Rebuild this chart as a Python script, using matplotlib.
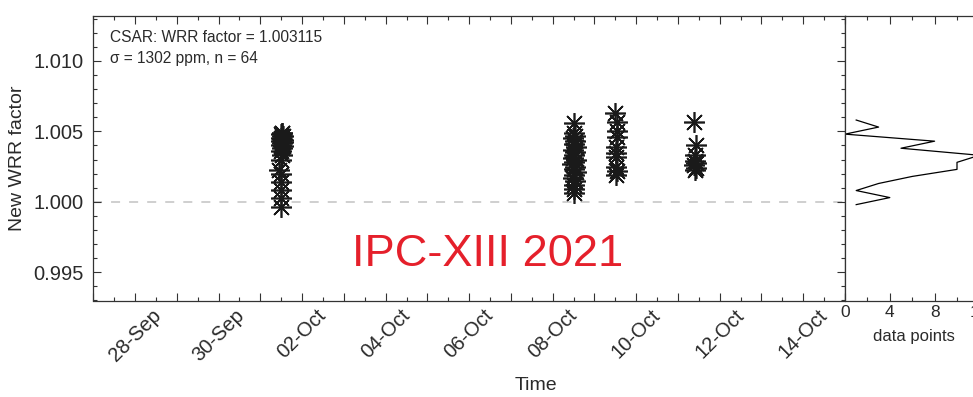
import numpy as np
import pandas as pd
import matplotlib
matplotlib.use("Agg")
import matplotlib.pyplot as plt
import matplotlib.dates as mdates
from matplotlib.ticker import MultipleLocator

plt.rcParams['font.family'] = ['Liberation Sans', 'DejaVu Sans']

# WRR factor per measurement, grouped by day of comparison
times_oct01 = ["2021-10-01 12:10", "2021-10-01 12:40", "2021-10-01 11:50", "2021-10-01 12:20",
               "2021-10-01 13:00", "2021-10-01 11:40", "2021-10-01 12:30", "2021-10-01 12:50",
               "2021-10-01 12:00", "2021-10-01 13:10", "2021-10-01 12:15", "2021-10-01 11:55",
               "2021-10-01 12:45", "2021-10-01 12:25", "2021-10-01 12:05", "2021-10-01 12:35",
               "2021-10-01 11:45", "2021-10-01 10:50", "2021-10-01 11:50", "2021-10-01 12:00",
               "2021-10-01 11:55", "2021-10-01 12:05", "2021-10-01 11:50"]
wrr_oct01 = [1.00490, 1.00485, 1.00478, 1.00470, 1.00465, 1.00455, 1.00448, 1.00440,
             1.00432, 1.00425, 1.00415, 1.00405, 1.00395, 1.00380, 1.00360, 1.00335,
             1.00300, 1.00228, 1.00195, 1.00140, 1.00085, 1.00030, 0.99965]

times_oct08 = ["2021-10-08 12:30", "2021-10-08 12:00", "2021-10-08 13:00", "2021-10-08 11:40",
               "2021-10-08 12:50", "2021-10-08 12:10", "2021-10-08 13:20", "2021-10-08 11:30",
               "2021-10-08 12:40", "2021-10-08 12:20", "2021-10-08 11:50", "2021-10-08 13:10",
               "2021-10-08 12:30", "2021-10-08 11:20", "2021-10-08 12:50", "2021-10-08 12:00",
               "2021-10-08 13:30", "2021-10-08 12:20", "2021-10-08 11:40", "2021-10-08 12:40",
               "2021-10-08 12:10", "2021-10-08 12:30", "2021-10-08 12:20"]
wrr_oct08 = [1.00556, 1.00490, 1.00470, 1.00450, 1.00430, 1.00410, 1.00390, 1.00370,
             1.00350, 1.00330, 1.00310, 1.00300, 1.00280, 1.00270, 1.00250, 1.00230,
             1.00210, 1.00190, 1.00170, 1.00150, 1.00120, 1.00090, 1.00060]

times_oct09 = ["2021-10-09 12:00", "2021-10-09 13:10", "2021-10-09 12:50", "2021-10-09 13:00",
               "2021-10-09 12:30", "2021-10-09 12:20", "2021-10-09 12:40", "2021-10-09 12:30",
               "2021-10-09 12:50", "2021-10-09 12:40"]
wrr_oct09 = [1.00627, 1.00567, 1.00500, 1.00460, 1.00390, 1.00345, 1.00320, 1.00248,
             1.00215, 1.00190]

times_oct11 = ["2021-10-11 09:10", "2021-10-11 10:10", "2021-10-11 10:00", "2021-10-11 09:40",
               "2021-10-11 10:20", "2021-10-11 09:30", "2021-10-11 10:10", "2021-10-11 09:50"]
wrr_oct11 = [1.00566, 1.00402, 1.00331, 1.00290, 1.00275, 1.00260, 1.00240, 1.00228]

# distribution of the factors (bin centre, number of points)
hist_bins = [0.9998, 1.0003, 1.0008, 1.0013, 1.0018, 1.0023, 1.0028,
             1.0033, 1.0038, 1.0043, 1.0048, 1.0053, 1.0058]
hist_counts = [1, 4, 1, 3, 6, 10, 10, 12, 5, 8, 0, 3, 1]

mean_wrr = 1.003115
sigma_ppm = 1302

times = pd.to_datetime(times_oct01 + times_oct08 + times_oct09 + times_oct11)
wrr = np.array(wrr_oct01 + wrr_oct08 + wrr_oct09 + wrr_oct11)
n = len(wrr)

W, H = 973, 397
fig = plt.figure(figsize=(W / 100, H / 100), dpi=100)
ax = fig.add_axes([93.3 / W, 1 - 300.5 / H, 751.7 / W, 284.8 / H])
axh = fig.add_axes([845 / W, 1 - 300.5 / H, 140 / W, 284.8 / H], sharey=ax)

txt = "#2a2a2a"
spine_c = "#333333"

ax.axhline(1.0, color="#cccccc", lw=1.3, ls=(0, (5, 5)), zorder=1)
ax.plot(times, wrr, ls="none", marker=(8, 2, 0), ms=15, mew=1.2,
        color="#1a1a1a", zorder=3)

ax.set_xlim(pd.Timestamp("2021-09-27"), pd.Timestamp("2021-10-15"))
ax.set_ylim(0.9930, 1.0132)

ax.xaxis.set_minor_locator(mdates.HourLocator(byhour=[12]))
ticks = pd.date_range("2021-09-27", "2021-10-15", freq="D")
ax.set_xticks(ticks)
ax.set_xticklabels([t.strftime("%d-%b") if (t - pd.Timestamp("2021-09-28")).days % 2 == 0 else ""
                    for t in ticks], rotation=45, ha="center", rotation_mode="default")

ax.yaxis.set_major_locator(MultipleLocator(0.005))
ax.yaxis.set_minor_locator(MultipleLocator(0.001))
ax.yaxis.set_major_formatter(matplotlib.ticker.FormatStrFormatter("%.3f"))

for a in (ax, axh):
    a.tick_params(which="both", direction="in", top=True, right=True,
                  color=spine_c, labelcolor=txt, labelsize=14.5, width=0.8)
    a.tick_params(which="major", length=6)
    a.tick_params(which="minor", length=3)
    for s in a.spines.values():
        s.set_color(spine_c)
        s.set_linewidth(0.9)
ax.tick_params(axis="x", pad=4)
ax.tick_params(axis="y", pad=7)

ax.set_ylabel("New WRR factor", fontsize=14, color=txt, labelpad=5)

ax.text(0.022, 0.925, f"CSAR: WRR factor = {mean_wrr:.6f}", transform=ax.transAxes,
        fontsize=11.2, color=txt, va="center")
ax.text(0.022, 0.848, f"\u03c3 = {sigma_ppm} ppm, n = {n}", transform=ax.transAxes,
        fontsize=11.2, color=txt, va="center")
ax.text(0.524, 0.163, "IPC-XIII 2021", transform=ax.transAxes, fontsize=32.6,
        color="#e5202b", ha="center", va="center")

fig.text(536 / W, 1 - 385 / H, "Time", fontsize=14, color=txt, ha="center", va="center")

# histogram panel
axh.plot(hist_counts, hist_bins, color="black", lw=0.9)
axh.set_xlim(0, 12.5)
axh.xaxis.set_major_locator(MultipleLocator(4))
axh.xaxis.set_minor_locator(MultipleLocator(2))
axh.tick_params(axis="y", which="both", left=False, right=False, labelleft=False)
axh.tick_params(axis="x", labelsize=12.5)
axh.set_xlabel("data points", fontsize=12, color=txt, labelpad=1)
axh.xaxis.set_label_coords((914 - 845) / 140, -0.1)

fig.savefig("out.png", dpi=100)
